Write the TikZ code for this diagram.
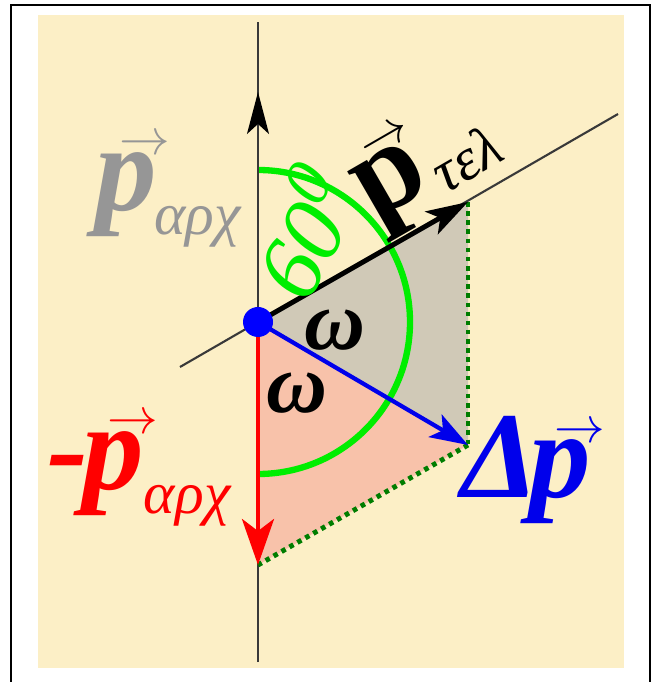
\documentclass[tikz,border=0pt]{standalone}
\usepackage{fontspec}
\setmainfont{Liberation Serif}
\usetikzlibrary{arrows.meta}
\definecolor{cream}{RGB}{252,239,198}
\definecolor{shadegray}{RGB}{208,201,183}
\definecolor{shadepink}{RGB}{248,194,170}
\definecolor{labgray}{RGB}{150,150,150}
\definecolor{arcgreen}{RGB}{0,238,0}
\definecolor{dotgreen}{RGB}{0,125,0}
\definecolor{vecblue}{RGB}{0,0,235}

\newcommand{\bigfont}{\fontsize{35}{35}\selectfont}
\newcommand{\subfont}{\fontsize{17}{17}\selectfont}
% p with a thin arrow on top
\newcommand{\arrowp}[1]{\rlap{\raisebox{0.45em}{\hspace{#1}\fontsize{14}{14}\selectfont$\rightarrow$}}p}

\begin{document}
\begin{tikzpicture}[x=1cm,y=1cm,
    axis/.style={line width=0.6pt, draw=gray!45!black},
    vec/.style={line width=1.2pt},
    helper/.style={line width=1.4pt, draw=dotgreen, dash pattern=on 1.3pt off 1.3pt},
    lab/.style={inner sep=0pt}]
    \useasboundingbox (-2.58,-3.60) rectangle (3.99,3.22);

    % background and frame
    \fill [cream] (-2.20,-3.46) rectangle (3.66,3.07);
    \draw [line width=0.6pt] (-2.47,-3.80) -- (-2.47,3.17) -- (3.92,3.17) -- (3.92,-3.80);

    \coordinate (O) at (0,0);
    \coordinate (T) at (2.10,1.20);
    \coordinate (D) at (2.10,-1.23);
    \coordinate (R) at (0,-2.43);
    \coordinate (U) at (0,2.30);
    \coordinate (Atop) at (0,3.00);
    \coordinate (Abot) at (0,-3.40);
    \coordinate (Lbeg) at (-0.78,-0.45);
    \coordinate (Lend) at (3.60,2.08);

    % shaded triangles
    \fill [shadegray] (O) -- (T) -- (D) -- cycle;
    \fill [shadepink] (O) -- (D) -- (R) -- cycle;

    % axes
    \draw [axis] (Abot) -- (Atop);
    \draw [axis] (Lbeg) -- (Lend);

    % angle arc
    \draw [arcgreen, line width=1.8pt] (O) ++(0,1.52) arc[start angle=90, end angle=-90, radius=1.52];

    % construction lines
    \draw [helper] (T) -- (D);
    \draw [helper] (D) -- (R);

    % vectors
    \draw [axis, -{Stealth[length=0.42cm, width=0.22cm, inset=0.10cm, color=black]}] (O) -- (U);
    \draw [vec, line width=1.4pt, -{Stealth[length=0.42cm, width=0.26cm, inset=0.10cm]}] (O) -- (T);
    \draw [vec, red, -{Stealth[length=0.46cm, width=0.32cm, inset=0.12cm]}] (O) -- (R);
    \draw [vec, vecblue, -{Stealth[length=0.38cm, width=0.26cm, inset=0.09cm]}] (O) -- (D);
    \fill [blue] (O) circle (0.15);

    % labels
    \node [lab, text=labgray] (parch) at (-0.90,1.30)
        {\bigfont\bfseries\itshape \arrowp{0.2em}\kern-0.02em\raisebox{-0.2em}{\subfont\mdseries αρχ}};
    \node [lab, text=red] (march) at (-1.19,-1.49)
        {\bigfont\bfseries\itshape -\kern-0.05em\arrowp{0.2em}\raisebox{-0.2em}{\subfont\mdseries αρχ}};
    \node [lab, rotate=30] (ptel) at (1.68,1.58)
        {\bigfont\bfseries \arrowp{0.2em}\kern0.05em\raisebox{-0.1em}{\subfont\mdseries\itshape τελ}};
    \node [lab, text=vecblue] (dp) at (2.68,-1.48)
        {\bigfont\bfseries\itshape Δ\kern-0.07em\arrowp{0.2em}};
    \node [lab, text=arcgreen, rotate=62] (angle) at (0.44,0.90)
        {\fontsize{26}{26}\selectfont\itshape 60\raisebox{0.38em}{\fontsize{19}{19}\selectfont 0}};
    \node [lab] (omup) at (0.77,-0.08) {\fontsize{24}{24}\selectfont\bfseries\itshape ω};
    \node [lab] (omdown) at (0.39,-0.71) {\fontsize{24}{24}\selectfont\bfseries\itshape ω};
\end{tikzpicture}
\end{document}
